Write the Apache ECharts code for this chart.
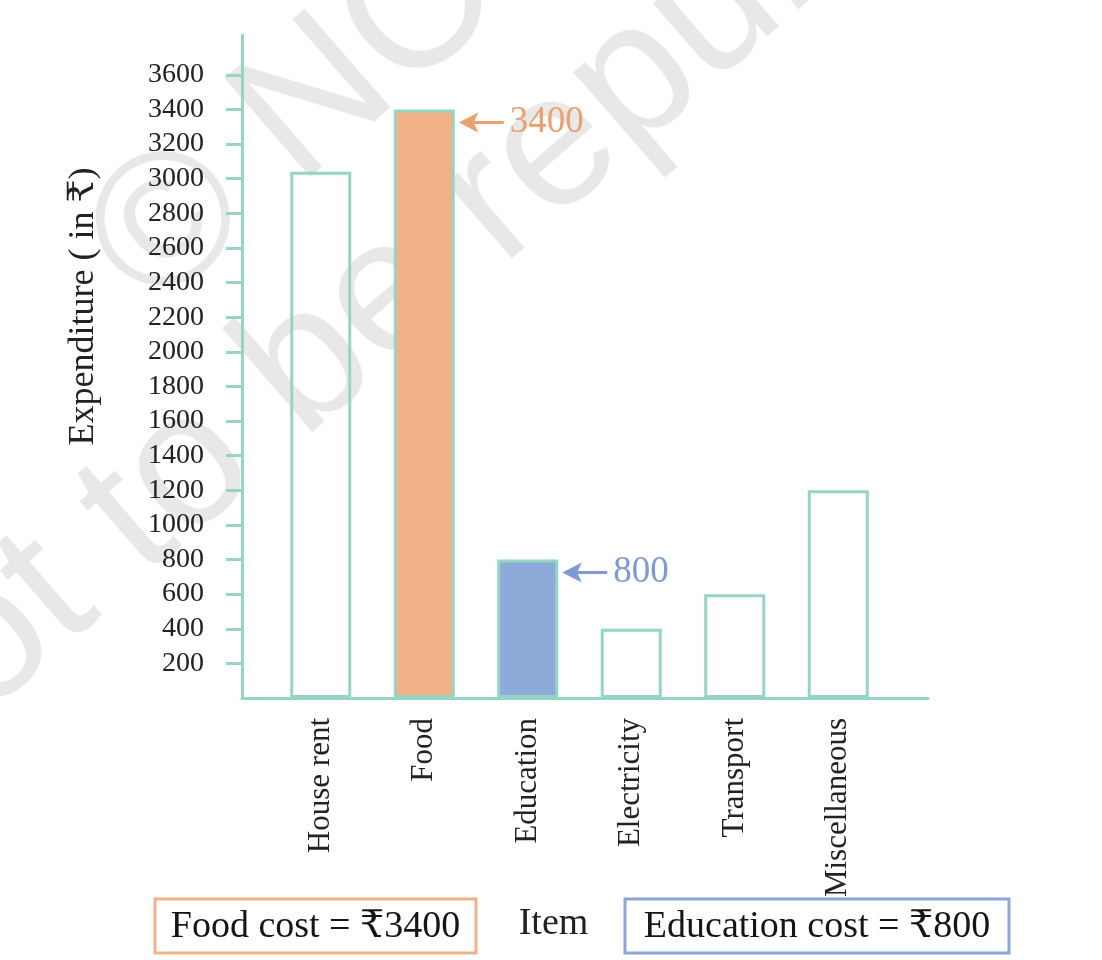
<!DOCTYPE html>
<html>
<head>
<meta charset="utf-8">
<script src="https://cdn.jsdelivr.net/npm/echarts@6/dist/echarts.min.js"></script>
<style>
  html, body { margin: 0; padding: 0; background: #fff; }
  #chart { width: 1102px; height: 960px; }
</style>
</head>
<body>
<div id="chart"></div>
<script>
// ---- data ----
const categories = ['House rent', 'Food', 'Education', 'Electricity', 'Transport', 'Miscellaneous'];
const expenditure = [3040, 3400, 800, 400, 600, 1200];
const yTickValues = [200, 400, 600, 800, 1000, 1200, 1400, 1600, 1800, 2000, 2200, 2400, 2600, 2800, 3000, 3200, 3400, 3600];
const annotatedItems = ['Food', 'Education'];
const yAxisTitle = 'Expenditure ( in ₹)';
const xAxisTitle = 'Item';
const watermarkLines = ['© NCERT', 'not to be republished'];

// ---- styles ----
const SERIF = '"Liberation Serif", "DejaVu Serif", serif';
const TEAL = '#96d4c4';
const fillByItem = { 'Food': '#f2b186', 'Education': '#8eaad9' };
const accentByItem = { 'Food': '#eba06f', 'Education': '#7f9ad4' };
const boxStrokeByItem = { 'Food': '#efb28a', 'Education': '#8ca6d8' };

const chart = echarts.init(document.getElementById('chart'), null, { renderer: 'canvas' });

const barData = expenditure.map((v, i) => ({
  value: v,
  itemStyle: {
    color: fillByItem[categories[i]] || 'rgba(0,0,0,0)',
    borderColor: TEAL,
    borderWidth: 3
  }
}));

const markData = annotatedItems.map(name => {
  const i = categories.indexOf(name);
  return {
    coord: [name, expenditure[i]],
    value: expenditure[i],
    itemStyle: { color: accentByItem[name] },
    label: { color: accentByItem[name] }
  };
});

const foodIdx = categories.indexOf('Food');
const eduIdx = categories.indexOf('Education');

const wmStyle = {
  fontSize: 190,
  fontFamily: '"Liberation Sans", Arial, sans-serif',
  fill: 'rgba(0,0,0,0.09)',
  align: 'left',
  verticalAlign: 'bottom'
};

const option = {
  animation: false,
  backgroundColor: '#ffffff',
  graphic: [
    { type: 'text', x: 181, y: 346, rotation: 0.7156, z: -10, silent: true,
      style: Object.assign({ text: watermarkLines[0] }, wmStyle) },
    { type: 'text', x: -68, y: 819, rotation: 0.7156, z: -10, silent: true,
      style: Object.assign({ text: watermarkLines[1] }, wmStyle) },
    { type: 'rect', shape: { x: 155, y: 899, width: 321, height: 54 },
      style: { fill: '#fff', stroke: boxStrokeByItem['Food'], lineWidth: 3 } },
    { type: 'text', x: 315.5, y: 927,
      style: { text: 'Food cost = ₹' + expenditure[foodIdx], fontSize: 38, fontFamily: SERIF,
               fill: '#151515', align: 'center', verticalAlign: 'middle' } },
    { type: 'rect', shape: { x: 625, y: 899, width: 384, height: 54 },
      style: { fill: '#fff', stroke: boxStrokeByItem['Education'], lineWidth: 3 } },
    { type: 'text', x: 817, y: 927,
      style: { text: 'Education cost = ₹' + expenditure[eduIdx], fontSize: 38, fontFamily: SERIF,
               fill: '#151515', align: 'center', verticalAlign: 'middle' } }
  ],
  grid: [
    { left: 269, right: 212, top: 35, bottom: 262 },
    { left: 242, right: 174, top: 35, bottom: 262 }
  ],
  xAxis: [
    {
      type: 'category', gridIndex: 0, data: categories,
      axisLine: { show: false }, axisTick: { show: false }, splitLine: { show: false },
      axisLabel: { rotate: 90, margin: 20, fontSize: 31, fontFamily: SERIF, color: '#222' },
      name: xAxisTitle, nameLocation: 'middle', nameGap: 175,
      nameTextStyle: { fontSize: 38, fontFamily: SERIF, color: '#222', padding: [0, 52, 0, 0] }
    },
    {
      type: 'value', gridIndex: 1, min: 0, max: 1,
      axisLine: { show: true, onZero: false, lineStyle: { color: TEAL, width: 3 } },
      axisTick: { show: false }, axisLabel: { show: false }, splitLine: { show: false }
    }
  ],
  yAxis: [
    {
      type: 'value', gridIndex: 0, min: 0, max: 3830, offset: 27,
      axisLine: { show: true, lineStyle: { color: TEAL, width: 3 } },
      axisTick: { show: true, length: 16, customValues: yTickValues, lineStyle: { color: TEAL, width: 3 } },
      axisLabel: { customValues: yTickValues, margin: 38, fontSize: 28, fontFamily: SERIF, color: '#222',
                   formatter: v => String(v) },
      splitLine: { show: false },
      name: yAxisTitle, nameLocation: 'middle', nameGap: 140,
      nameTextStyle: { fontSize: 36, fontFamily: SERIF, color: '#222', padding: [0, 0, 0, 120] }
    },
    { type: 'value', gridIndex: 1, show: false, min: 0, max: 1 }
  ],
  series: [
    {
      type: 'bar', xAxisIndex: 0, yAxisIndex: 0, barWidth: 61,
      data: barData,
      markPoint: {
        symbol: 'path://M0,10 L20,0 L16,8.5 L46,8.5 L46,11.5 L16,11.5 L20,20 Z',
        symbolSize: [45, 20],
        symbolOffset: [57, 13],
        label: { show: true, position: 'right', distance: 6, formatter: '{c}',
                 fontSize: 37, fontFamily: SERIF },
        data: markData
      }
    }
  ]
};

chart.setOption(option);
</script>
</body>
</html>
